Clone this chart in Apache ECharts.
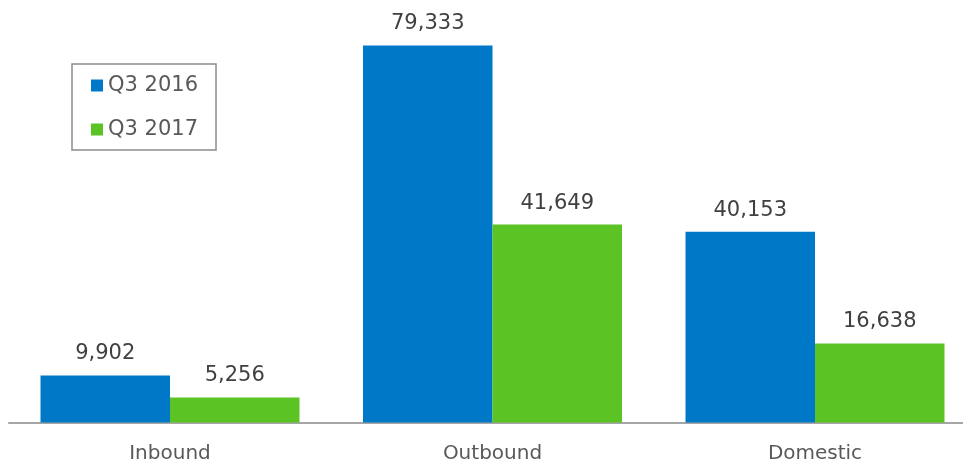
<!DOCTYPE html>
<html>
<head>
<meta charset="utf-8">
<script src="https://cdn.jsdelivr.net/npm/echarts@6/dist/echarts.min.js"></script>
<style>html,body{margin:0;padding:0;background:#fff;overflow:hidden}#c{width:980px;height:462px}</style>
</head>
<body>
<div id="c"></div>
<script>
var categories = ['Inbound', 'Outbound', 'Domestic'];
var q3_2016 = [9902, 79333, 40153];
var q3_2017 = [5256, 41649, 16638];
var seriesNames = ['Q3 2016', 'Q3 2017'];

var chart = echarts.init(document.getElementById('c'));
var font = 'DejaVu Sans';
var labelCfg = {
  show: true, position: 'top', distance: 11,
  fontFamily: font, fontSize: 21, color: '#404040',
  formatter: function (p) { return p.value.toLocaleString('en-US'); }
};
chart.setOption({
  animation: false,
  grid: { left: 8.75, top: 42.3, right: 3.75, bottom: 39.5, outerBoundsMode: 'none', containLabel: false },
  legend: {
    orient: 'vertical', left: 72, top: 64,
    padding: [11, 18, 10, 19],
    borderColor: '#8c8c8c', borderWidth: 1.5,
    itemWidth: 12, itemHeight: 12, itemGap: 23,
    icon: 'rect',
    textStyle: { fontFamily: font, fontSize: 21, color: '#595959' },
    data: seriesNames
  },
  xAxis: {
    type: 'category', data: categories,
    axisLine: { lineStyle: { color: '#898989', width: 1.5 } },
    axisTick: { show: false },
    axisLabel: { fontFamily: font, fontSize: 20, color: '#595959', margin: 21 }
  },
  yAxis: { type: 'value', min: 0, max: 80000, show: false, splitLine: { show: false } },
  series: [
    { name: seriesNames[0], type: 'bar', data: q3_2016, barWidth: 129.5, barGap: '0%',
      itemStyle: { color: '#0078C8' }, label: labelCfg },
    { name: seriesNames[1], type: 'bar', data: q3_2017, barWidth: 129.5, barGap: '0%',
      itemStyle: { color: '#5BC424' }, label: labelCfg }
  ]
});
</script>
</body>
</html>
